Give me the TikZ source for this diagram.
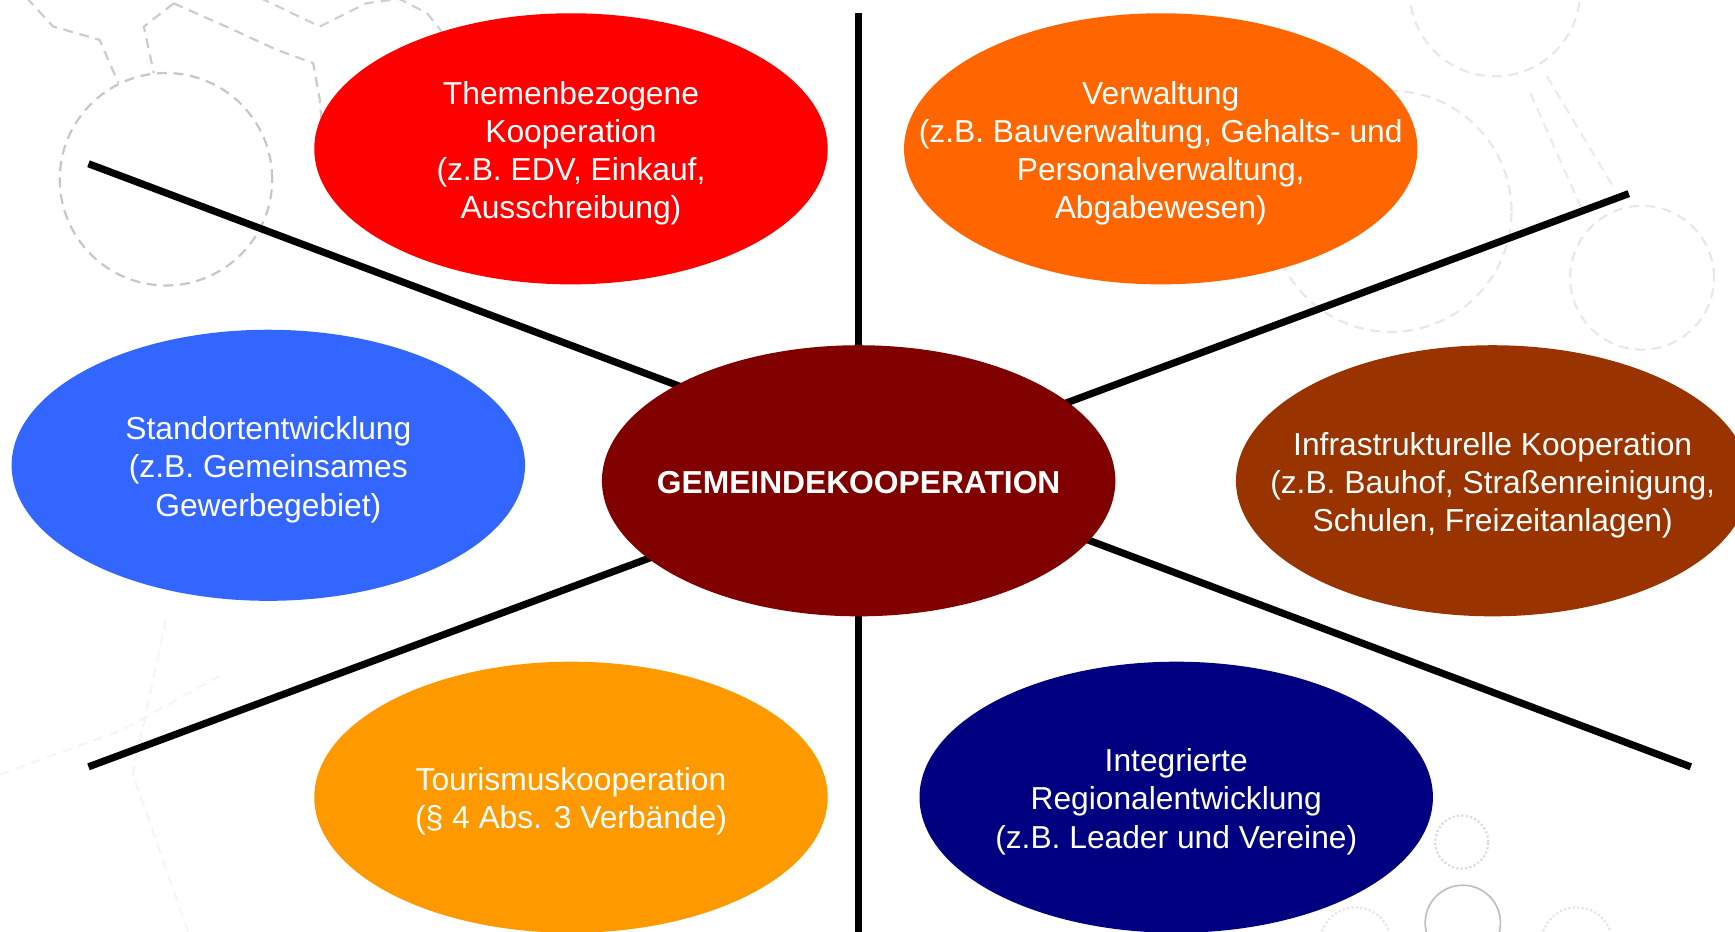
\documentclass[tikz,border=0pt]{standalone}
\usepackage{fontspec}
\setmainfont{Liberation Sans}
\usetikzlibrary{shapes.geometric}
\definecolor{cRed}{HTML}{FF0000}
\definecolor{cOrange}{HTML}{FF6600}
\definecolor{cBlue}{HTML}{3366FF}
\definecolor{cBrown}{HTML}{993300}
\definecolor{cGold}{HTML}{FF9900}
\definecolor{cNavy}{HTML}{000080}
\definecolor{cCore}{HTML}{800000}
\begin{document}
\begin{tikzpicture}[x=1pt,y=-1pt,
  blob/.style={ellipse, draw=none, inner sep=0pt, minimum width=464pt, minimum height=245pt},
  lbl/.style={text=white, align=center, inner sep=0pt, yshift=-4pt, font=\fontsize{28.7}{34.5}\selectfont},
  spoke/.style={line width=6.5pt, black},
  bgline/.style={line width=2pt, dash pattern=on 9pt off 6pt, line join=round}]
\useasboundingbox (0,0) rectangle (1568,842);
\clip (0,0) rectangle (1568,842);
% faint background decoration (top left)
\draw[bgline, black!22] (150,162) circle[radius=96pt];
\draw[bgline, black!20] (24,-2) -- (48,24) -- (90,36) -- (107,75);
\draw[bgline, black!20] (157,3) -- (130,24) -- (139,66);
\draw[bgline, black!20] (157,3) -- (211,27) -- (250,45) -- (283,57) -- (289,90) -- (292,125);
\draw[bgline, black!18] (235,-2) -- (289,24) -- (301,18) -- (331,3) -- (361,-1) -- (386,12) -- (398,27) -- (410,45);
% faint background decoration (top right)
\draw[bgline, black!9] (1351,-8) circle[radius=77pt];
\draw[bgline, black!9] (1257,191) circle[radius=109pt];
\draw[bgline, black!9] (1484,251) circle[radius=65pt];
\draw[bgline, black!8] (1398,69) -- (1458,169);
\draw[bgline, black!8] (1383,84) -- (1430,190);
% faint background decoration (bottom)
\draw[line width=2pt, black!14, dotted] (1321,761) circle[radius=24pt];
\draw[line width=1.5pt, black!25] (1322,834) circle[radius=34pt];
\draw[line width=2pt, black!10, dotted] (1225,852) circle[radius=32pt];
\draw[line width=2pt, black!10, dotted] (1425,852) circle[radius=32pt];
\draw[bgline, black!4] (150,560) -- (120,700) -- (170,842);
\draw[bgline, black!4] (0,700) -- (110,660) -- (200,610);
% spokes
\coordinate (nw) at (80,148);
\coordinate (se) at (1528,693);
\coordinate (ne) at (1472,175);
\coordinate (sw) at (80,693);
\coordinate (top) at (776,12);
\coordinate (bot) at (776,850);
\draw[spoke] (nw) -- (se);
\draw[spoke] (sw) -- (ne);
\draw[spoke] (top) -- (bot);
% ellipses
\node[blob, fill=cRed] (themen) at (516,134.5) {};
\node[lbl] at (themen) {Themenbezogene\\Kooperation\\(z.B. EDV, Einkauf,\\Ausschreibung)};
\node[blob, fill=cOrange] (verw) at (1049,134.5) {};
\node[lbl] at (verw) {Verwaltung\\(z.B. Bauverwaltung, Gehalts- und\\Personalverwaltung,\\Abgabewesen)};
\node[blob, fill=cBlue] (stand) at (242.5,420.5) {};
\node[lbl] at (stand) {Standortentwicklung\\(z.B. Gemeinsames\\Gewerbegebiet)};
\node[blob, fill=cBrown] (infra) at (1349,434.5) {};
\node[lbl] at (infra) {Infrastrukturelle Kooperation\\(z.B. Bauhof, Straßenreinigung,\\Schulen, Freizeitanlagen)};
\node[blob, fill=cGold] (tour) at (516,720.5) {};
\node[lbl] at (tour) {Tourismuskooperation\\(§ 4 Abs. 3 Verbände)};
\node[blob, fill=cNavy] (regio) at (1063,720.5) {};
\node[lbl] at (regio) {Integrierte\\Regionalentwicklung\\(z.B. Leader und Vereine)};
\node[blob, fill=cCore] (core) at (776,434.5) {};
\node[lbl, yshift=2pt, font=\fontsize{28.7}{34.5}\selectfont\bfseries] at (core) {GEMEINDEKOOPERATION};
\end{tikzpicture}
\end{document}
